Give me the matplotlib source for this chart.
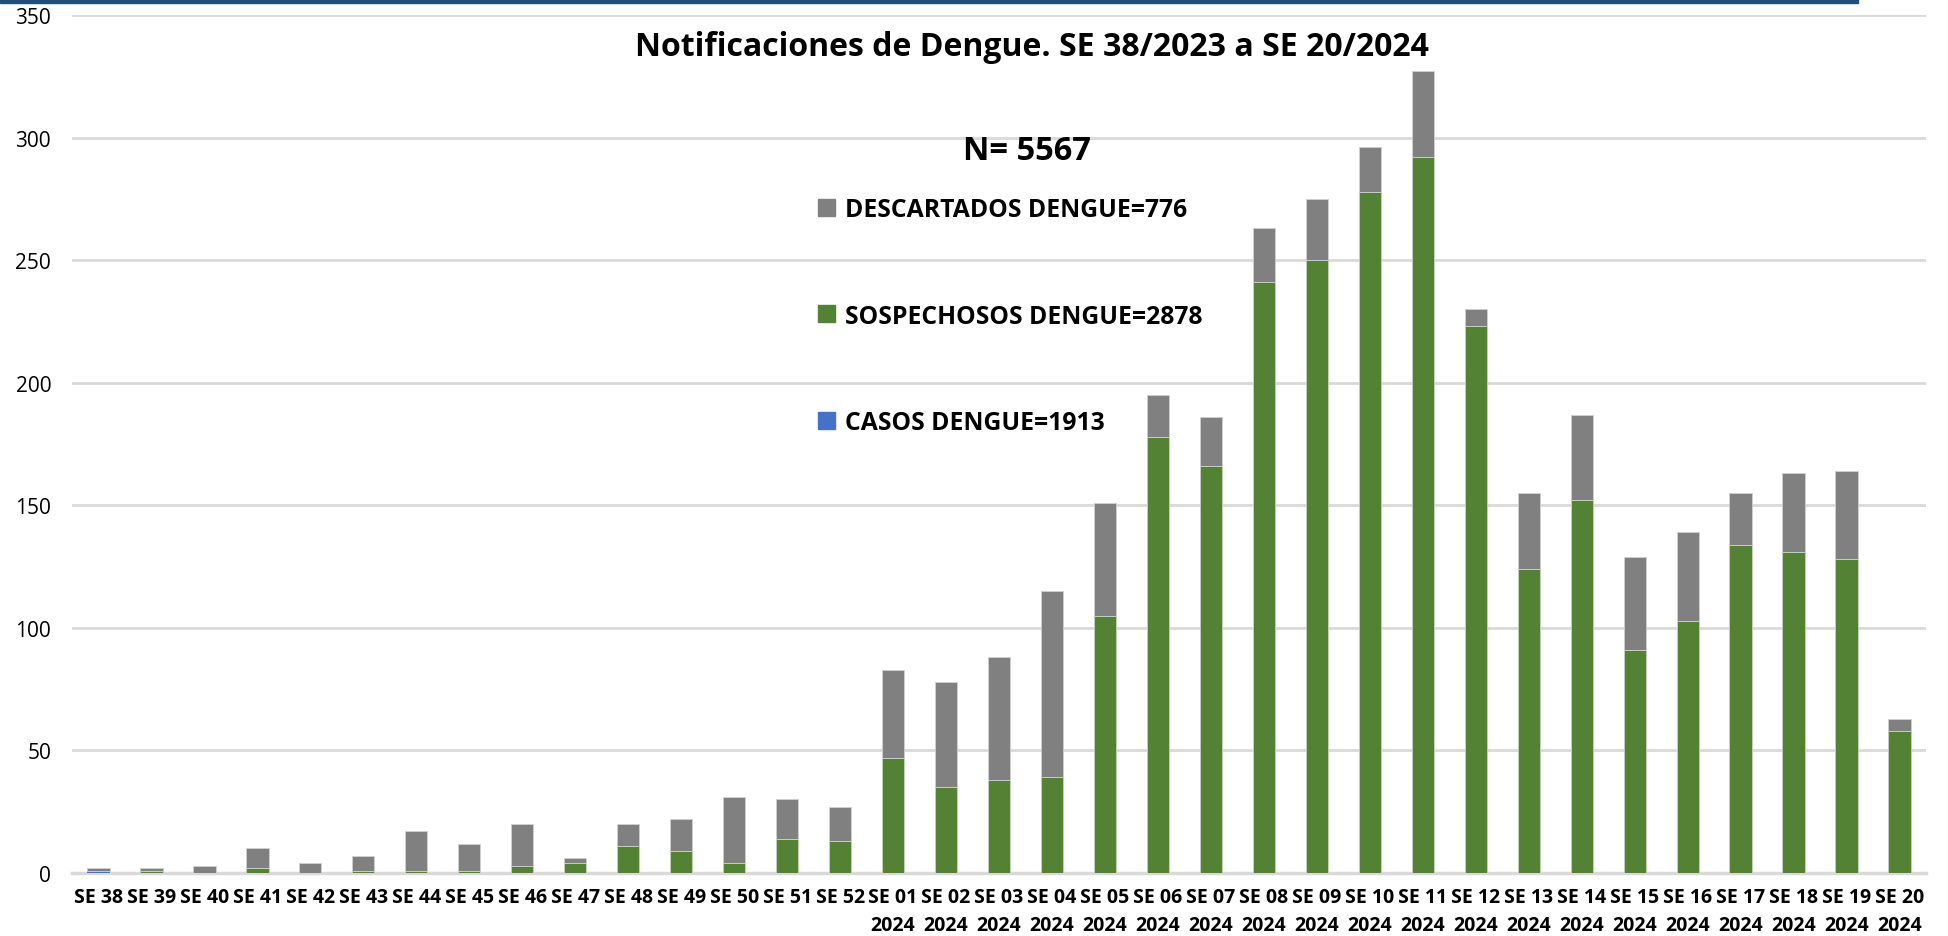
import numpy as np
import matplotlib
matplotlib.use("Agg")
import matplotlib.pyplot as plt
from matplotlib.patches import Patch, Rectangle

plt.rcParams['font.family'] = ['Open Sans', 'DejaVu Sans']

semanas = ['SE 38', 'SE 39', 'SE 40', 'SE 41', 'SE 42', 'SE 43', 'SE 44', 'SE 45',
           'SE 46', 'SE 47', 'SE 48', 'SE 49', 'SE 50', 'SE 51', 'SE 52',
           'SE 01\n2024', 'SE 02\n2024', 'SE 03\n2024', 'SE 04\n2024', 'SE 05\n2024',
           'SE 06\n2024', 'SE 07\n2024', 'SE 08\n2024', 'SE 09\n2024', 'SE 10\n2024',
           'SE 11\n2024', 'SE 12\n2024', 'SE 13\n2024', 'SE 14\n2024', 'SE 15\n2024',
           'SE 16\n2024', 'SE 17\n2024', 'SE 18\n2024', 'SE 19\n2024', 'SE 20\n2024']

casos = [1, 0, 0, 0, 0, 0, 0, 0, 0, 0, 0, 0, 0, 0, 0,
         0, 0, 0, 0, 0, 0, 0, 0, 0, 0, 0, 0, 0, 0, 0, 0, 0, 0, 0, 0]
sospechosos = [0, 1, 0, 2, 0, 1, 1, 1, 3, 4, 11, 9, 4, 14, 13,
               47, 35, 38, 39, 105, 178, 166, 241, 250, 278, 292, 223, 124, 152, 91,
               103, 134, 131, 128, 58]
descartados = [1, 1, 3, 8, 4, 6, 16, 11, 17, 2, 9, 13, 27, 16, 14,
               36, 43, 50, 76, 46, 17, 20, 22, 25, 18, 35, 7, 31, 35, 38,
               36, 21, 32, 36, 5]

lbl_casos = 'CASOS DENGUE=1913'
lbl_sosp = 'SOSPECHOSOS DENGUE=2878'
lbl_desc = 'DESCARTADOS DENGUE=776'

c_azul = '#4472C4'
c_verde = '#548235'
c_gris = '#808080'

fig = plt.figure(figsize=(19.49, 9.37), dpi=100)
ax = fig.add_axes([72/1949, 1-874/937, (1926-72)/1949, (874-16)/937])

x = np.arange(len(semanas))
w = 0.42
casos = np.array(casos)
sospechosos = np.array(sospechosos)
descartados = np.array(descartados)

ax.bar(x, casos, w, color=c_azul, zorder=3)
ax.bar(x, sospechosos, w, bottom=casos, color=c_verde, edgecolor='#c8d4c0', linewidth=0.6, zorder=3)
ax.bar(x, descartados, w, bottom=casos + sospechosos, color=c_gris, edgecolor='#d0d0d0', linewidth=0.6, zorder=3)

ax.set_xlim(-0.5, len(semanas) - 0.5)
ax.set_ylim(0, 350)
ax.set_yticks(range(0, 351, 50))
ax.grid(axis='y', color='#d9d9d9', linewidth=2, zorder=0)
for s in ['top', 'right', 'left']:
    ax.spines[s].set_visible(False)
ax.spines['bottom'].set_color('#d9d9d9')
ax.spines['bottom'].set_linewidth(2.5)
ax.tick_params(axis='both', length=0)
ax.tick_params(axis='y', labelsize=15, pad=15)
ax.set_xticks(x)
ax.set_xticklabels(semanas, fontsize=14, fontweight='bold', linespacing=1.55)
ax.tick_params(axis='x', pad=10)

fig.text(1032/1949, 1-47/937, 'Notificaciones de Dengue. SE 38/2023 a SE 20/2024',
         ha='center', va='center', fontsize=23, fontweight='bold')
fig.text(1027/1949, 1-152/937, 'N= 5567', ha='center', va='center',
         fontsize=23.5, fontweight='bold')

handles = [Patch(color=c_gris, label=lbl_desc),
           Patch(color=c_verde, label=lbl_sosp),
           Patch(color=c_azul, label=lbl_casos)]
leg = fig.legend(handles=handles, loc='upper left', bbox_to_anchor=(818/1949, 1-198/937),
                 frameon=False, fontsize=17.8, labelspacing=3.3, handlelength=0.68,
                 handleheight=0.68, handletextpad=0.4, borderpad=0, borderaxespad=0)
for t in leg.get_texts():
    t.set_fontweight('bold')

# barra azul superior
fig.add_artist(Rectangle((0, 1-4/937), 1858/1949, 4/937, transform=fig.transFigure,
                         color='#1F4E79', zorder=5))

fig.savefig('out.png', dpi=100)
